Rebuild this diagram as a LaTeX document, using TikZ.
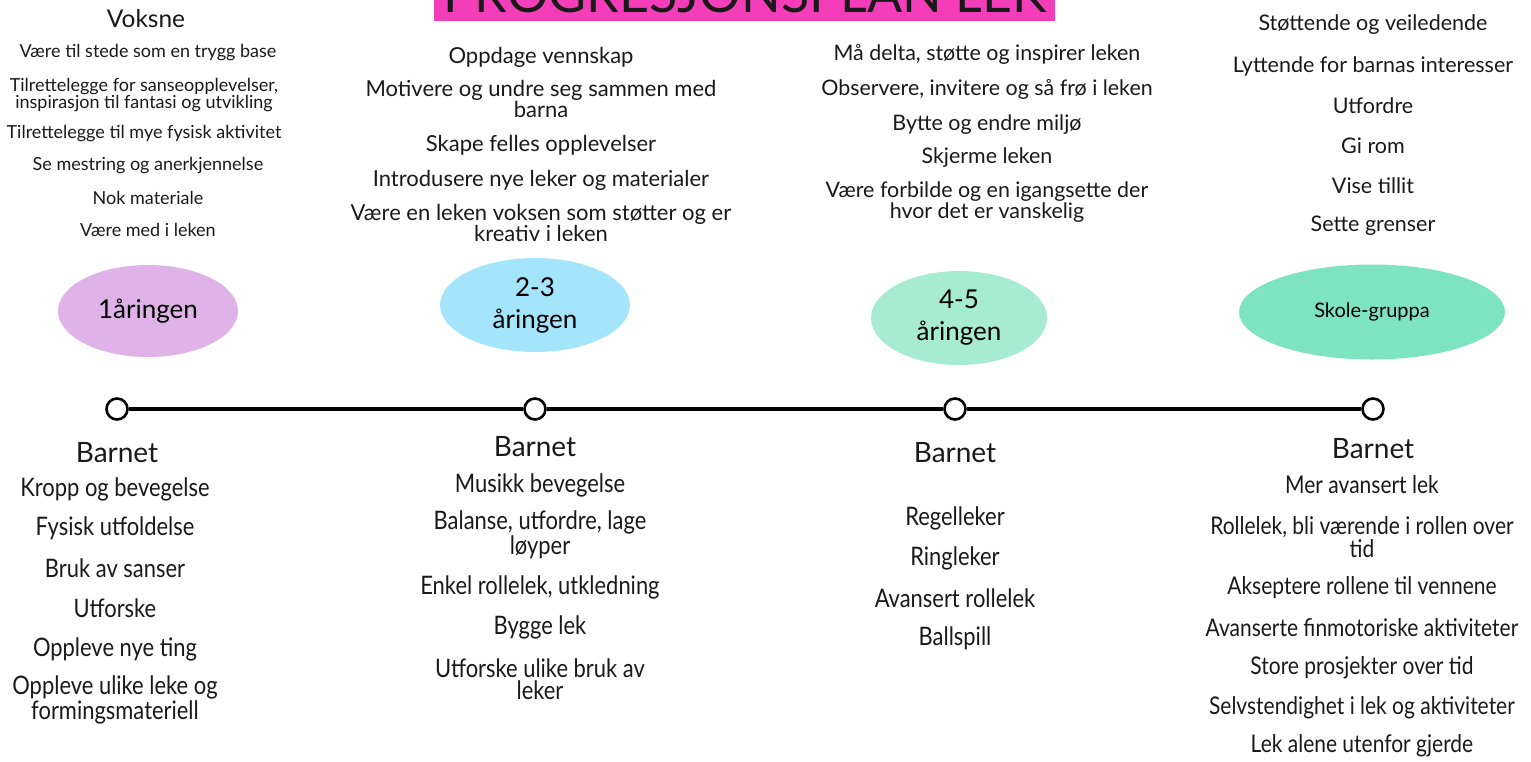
\documentclass[tikz,border=0pt]{standalone}
\usepackage{fontspec}
\setmainfont{Lato}
\newfontfamily\condfont[FakeStretch=0.86]{Lato}
\usetikzlibrary{shapes.geometric}
\definecolor{titlepink}{HTML}{F43DB8}
\definecolor{ecol1}{HTML}{DFB3E8}
\definecolor{ecol2}{HTML}{A5E5FB}
\definecolor{ecol3}{HTML}{A7EBD2}
\definecolor{ecol4}{HTML}{7EE3C1}
\tikzset{
  txt/.style={inner sep=0pt, align=center, text=black!90},
  vsmall/.style={txt, font=\fontsize{18}{12.5}\selectfont},
  vmid/.style={txt, font=\fontsize{22}{16.5}\selectfont},
  vmid3/.style={txt, font=\fontsize{21.4}{17}\selectfont},
  vmid4/.style={txt, font=\fontsize{21.5}{17}\selectfont},
  head/.style={txt, font=\fontsize{28}{28}\selectfont},
  bitem/.style={txt, font=\condfont\fontsize{25.5}{22.5}\selectfont},
  bitemfour/.style={txt, font=\condfont\fontsize{24.4}{22.5}\selectfont},
  age/.style={ellipse, inner sep=0pt, align=center, font=\fontsize{26}{32}\selectfont},
  tdot/.style={circle, draw=black, fill=white, line width=2.6pt, minimum size=21pt, inner sep=0pt},
  tline/.style={line width=4.5pt, black}
}
\begin{document}
\begin{tikzpicture}[x=1pt,y=-1pt]
\useasboundingbox (0,0) rectangle (1531,761);
% title
\fill[titlepink] (434,-10) rectangle (1055,20.5);
\node[txt, anchor=base, font=\fontsize{52}{52}\selectfont] (title) at (745,12.5) {PROGRESJONSPLAN LEK};
% ellipses
\node[age, fill=ecol1, minimum width=180pt, minimum height=92pt] (e1) at (148,311) {1åringen};
\node[age, fill=ecol2, minimum width=190pt, minimum height=94pt] (e2) at (535,305) {2-3\\åringen};
\node[age, fill=ecol3, minimum width=176pt, minimum height=94pt] (e3) at (959,318) {4-5\\åringen};
\node[age, fill=ecol4, minimum width=266pt, minimum height=95pt, font=\fontsize{20}{22}\selectfont] (e4) at (1372,312) {Skole-gruppa};
% timeline
\node[tdot] (d1) at (117,409) {};
\node[tdot] (d2) at (535,409) {};
\node[tdot] (d3) at (955,409) {};
\node[tdot] (d4) at (1373,409) {};
\draw[tline] (d1) -- (d2);
\draw[tline] (d2) -- (d3);
\draw[tline] (d3) -- (d4);
% top column 1
\node[txt, font=\fontsize{24.5}{24}\selectfont] (voksne) at (146,19) {Voksne};
\node[vsmall] (a1) at (148,53) {Være til stede som en trygg base};
\node[vsmall] (a2) at (144,95) {Tilrettelegge for sanseopplevelser,\\inspirasjon til fantasi og utvikling};
\node[vsmall] (a3) at (144,134) {Tilrettelegge til mye fysisk aktivitet};
\node[vsmall] (a4) at (148,166) {Se mestring og anerkjennelse};
\node[vsmall] (a5) at (148,198) {Nok materiale};
\node[vsmall] (a6) at (148,230) {Være med i leken};
% top column 2
\node[vmid] (b1) at (541,57) {Oppdage vennskap};
\node[vmid] (b2) at (541,99) {Motivere og undre seg sammen med\\barna};
\node[vmid] (b3) at (541,145) {Skape felles opplevelser};
\node[vmid] (b4) at (541,180) {Introdusere nye leker og materialer};
\node[vmid] (b5) at (541,223) {Være en leken voksen som støtter og er\\kreativ i leken};
% top column 3
\node[vmid3] (c1) at (987,54) {Må delta, støtte og inspirer leken};
\node[vmid3] (c2) at (987,89) {Observere, invitere og så frø i leken};
\node[vmid3] (c3) at (987,125) {Bytte og endre miljø};
\node[vmid3] (c4) at (987,158) {Skjerme leken};
\node[vmid3] (c5) at (987,202) {Være forbilde og en igangsette der\\hvor det er vanskelig};
% top column 4
\node[vmid4] (f1) at (1373,25) {Støttende og veiledende};
\node[vmid4] (f2) at (1373,66) {Lyttende for barnas interesser};
\node[vmid4] (f3) at (1373,106) {Utfordre};
\node[vmid4] (f4) at (1373,146) {Gi rom};
\node[vmid4] (f5) at (1373,186) {Vise tillit};
\node[vmid4] (f6) at (1373,226) {Sette grenser};
% Barnet headings
\node[head] (h1) at (117,453) {Barnet};
\node[head] (h2) at (535,447) {Barnet};
\node[head] (h3) at (955,453) {Barnet};
\node[head] (h4) at (1373,449) {Barnet};
% bottom column 1
\node[bitem] (g1) at (115,489) {Kropp og bevegelse};
\node[bitem] (g2) at (115,528) {Fysisk utfoldelse};
\node[bitem] (g3) at (115,568) {Bruk av sanser};
\node[bitem] (g4) at (115,608) {Utforske};
\node[bitem] (g5) at (115,649) {Oppleve nye ting};
\node[bitem] (g6) at (115,700) {Oppleve ulike leke og\\formingsmateriell};
% bottom column 2
\node[bitem] (k1) at (540,485) {Musikk bevegelse};
\node[bitem] (k2) at (540,535) {Balanse, utfordre, lage\\løyper};
\node[bitem] (k3) at (540,587) {Enkel rollelek, utkledning};
\node[bitem] (k4) at (540,627) {Bygge lek};
\node[bitem] (k5) at (540,679) {Utforske ulike bruk av\\leker};
% bottom column 3
\node[bitem] (m1) at (955,518) {Regelleker};
\node[bitem] (m2) at (955,558) {Ringleker};
\node[bitem] (m3) at (955,598) {Avansert rollelek};
\node[bitem] (m4) at (955,638) {Ballspill};
% bottom column 4
\node[bitemfour] (n1) at (1362,485) {Mer avansert lek};
\node[bitemfour] (n2) at (1362,537) {Rollelek, bli værende i rollen over\\tid};
\node[bitemfour] (n3) at (1362,588) {Akseptere rollene til vennene};
\node[bitemfour] (n4) at (1362,628) {Avanserte finmotoriske aktiviteter};
\node[bitemfour] (n5) at (1362,668) {Store prosjekter over tid};
\node[bitemfour] (n6) at (1362,708) {Selvstendighet i lek og aktiviteter};
\node[bitemfour] (n7) at (1362,746) {Lek alene utenfor gjerde};
\end{tikzpicture}
\end{document}
